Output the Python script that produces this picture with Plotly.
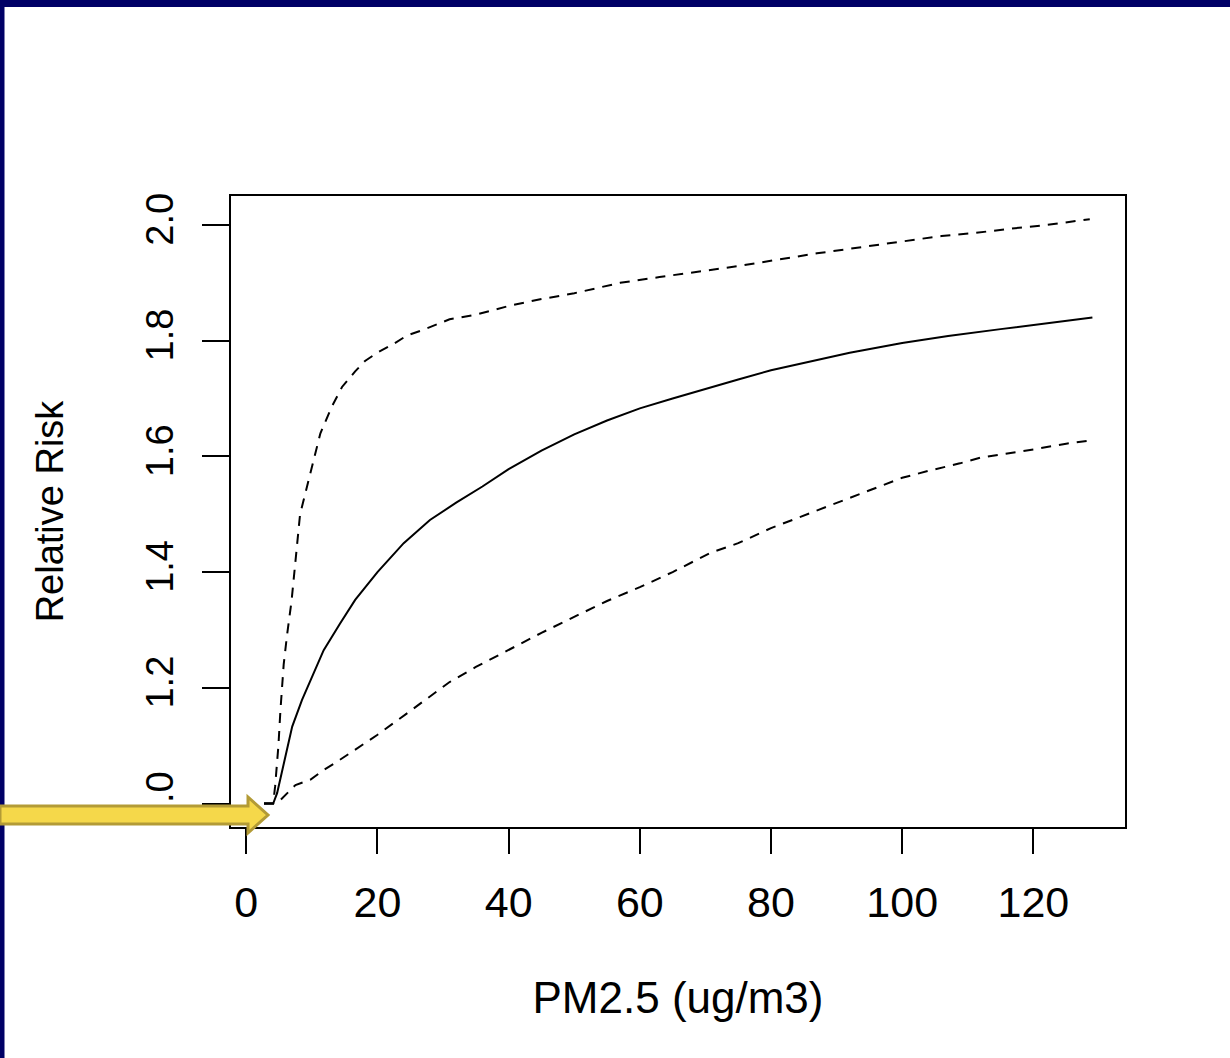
import plotly.graph_objects as go

# ---- data ----
upper_x = [2.7, 4.1, 4.4, 4.9, 5.2, 5.7, 6.2, 6.9, 8.2, 9.5, 11.3, 13.0, 14.6, 16.6, 18.1,
           20.1, 22.4, 24.5, 26.8, 31, 35, 40, 45, 50, 57, 63, 69, 75, 81, 87, 94, 100,
           106, 111, 116, 122, 128.6]
upper_y = [1.0, 1.0, 1.03, 1.10, 1.16, 1.24, 1.29, 1.35, 1.50, 1.56, 1.64, 1.685, 1.72, 1.747,
           1.765, 1.78, 1.794, 1.809, 1.818, 1.837, 1.845, 1.86, 1.872, 1.882, 1.90, 1.91,
           1.919, 1.929, 1.94, 1.951, 1.962, 1.972, 1.981, 1.986, 1.993, 2.0, 2.01]

mid_x = [2.7, 4.1, 4.7, 5.9, 7.0, 8.5, 10.0, 11.8, 14.3, 16.6, 20, 24, 28, 32, 36, 40, 45,
         50, 55, 60, 65, 70, 75, 80, 86, 92, 100, 107, 115, 122, 129]
mid_y = [1.0, 1.0, 1.018, 1.081, 1.133, 1.179, 1.219, 1.265, 1.311, 1.352, 1.40, 1.45, 1.49,
         1.52, 1.548, 1.578, 1.61, 1.638, 1.662, 1.683, 1.70, 1.717, 1.733, 1.749, 1.764,
         1.779, 1.796, 1.808, 1.82, 1.83, 1.84]

lower_x = [2.7, 4.1, 5.2, 7.5, 9.75, 11.8, 13.8, 15.8, 17.9, 19.9, 25, 31, 35, 40, 45, 50.6,
           55, 60, 65, 70.7, 75, 80, 86, 92, 100, 104, 108.8, 112, 115, 120, 125, 129]
lower_y = [1.0, 1.0, 1.006, 1.032, 1.041, 1.058, 1.072, 1.087, 1.102, 1.118, 1.16, 1.21,
           1.236, 1.265, 1.295, 1.326, 1.35, 1.374, 1.40, 1.433, 1.45, 1.476, 1.502, 1.528,
           1.563, 1.575, 1.588, 1.598, 1.603, 1.612, 1.622, 1.628]

x_ticks = [0, 20, 40, 60, 80, 100, 120]
y_ticks = [1.0, 1.2, 1.4, 1.6, 1.8, 2.0]
y_tick_labels = ["1.0", "1.2", "1.4", "1.6", "1.8", "2.0"]

x_title = "PM2.5 (ug/m3)"
y_title = "Relative Risk"

# ---- layout geometry ----
W, H = 1230, 1058
ML, MR, MT, MB = 231, 105, 196, 231
PW, PH = W - ML - MR, H - MT - MB


def px(xp):
    return (xp - ML) / PW


def py(yp):
    return (H - MB - yp) / PH


FONT = "Liberation Sans, Arial, sans-serif"
NAVY = "#000066"

fig = go.Figure()
fig.add_trace(go.Scatter(x=upper_x, y=upper_y, mode="lines",
                         line=dict(color="black", width=2, dash="10px,8px"),
                         showlegend=False))
fig.add_trace(go.Scatter(x=mid_x, y=mid_y, mode="lines",
                         line=dict(color="black", width=2), showlegend=False))
fig.add_trace(go.Scatter(x=lower_x, y=lower_y, mode="lines",
                         line=dict(color="black", width=2, dash="10px,8px"),
                         showlegend=False))

shapes = [
    # navy frame (top and left)
    dict(type="rect", xref="paper", yref="paper", x0=px(0), x1=px(W), y0=py(7), y1=py(0),
         fillcolor=NAVY, line=dict(width=0), layer="below"),
    dict(type="rect", xref="paper", yref="paper", x0=px(0), x1=px(4.5), y0=py(H), y1=py(0),
         fillcolor=NAVY, line=dict(width=0), layer="below"),
]
arrow_pts = [(0, 806), (248, 806), (248, 797), (268, 815), (248, 833), (248, 824), (0, 824)]
path = "M " + " L ".join(f"{px(a):.5f},{py(b):.5f}" for a, b in arrow_pts) + " Z"
shapes.append(dict(type="path", xref="paper", yref="paper", path=path,
                   fillcolor="#F5D84A", line=dict(color="#B39B36", width=3), layer="above"))

fig.update_layout(
    width=W, height=H,
    margin=dict(l=ML, r=MR, t=MT, b=MB, autoexpand=False),
    paper_bgcolor="white", plot_bgcolor="white",
    font=dict(family=FONT, color="black"),
    shapes=shapes,
    showlegend=False,
)
fig.update_xaxes(
    range=[-2.33, 133.97], tickvals=x_ticks, ticktext=[str(v) for v in x_ticks],
    showgrid=False, zeroline=False, showline=True, mirror=True,
    linecolor="black", linewidth=2,
    ticks="outside", ticklen=25, tickwidth=2, tickcolor="black",
    tickfont=dict(size=43, family=FONT, color="black"), ticklabelstandoff=11,
    title=dict(text=x_title, font=dict(size=44, family=FONT, color="black"), standoff=58),
)
fig.update_yaxes(
    range=[0.9594, 2.0501], tickvals=y_ticks, ticktext=y_tick_labels, tickangle=-90,
    showgrid=False, zeroline=False, showline=True, mirror=True,
    linecolor="black", linewidth=2,
    ticks="outside", ticklen=27, tickwidth=2, tickcolor="black",
    tickfont=dict(size=38, family=FONT, color="black"), ticklabelstandoff=14,
    title=dict(text=y_title, font=dict(size=38, family=FONT, color="black"), standoff=63),
)

fig.write_html("out.html")
